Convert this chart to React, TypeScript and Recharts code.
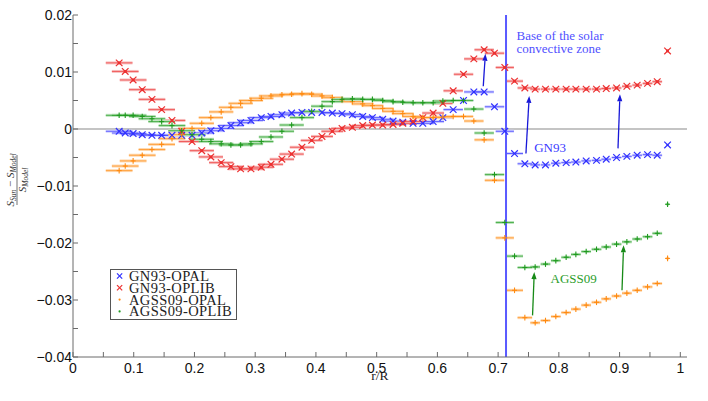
import React from 'react';
import { ScatterChart, Scatter, XAxis, YAxis, ErrorBar, ReferenceLine, ReferenceDot, Legend } from 'recharts';

// fractional radius of each measurement point
const radius = [
  0.076, 0.086, 0.099, 0.114, 0.130, 0.146, 0.163, 0.179, 0.196, 0.212,
  0.227, 0.244, 0.260, 0.276, 0.293, 0.310, 0.326, 0.344, 0.360, 0.377,
  0.393, 0.410, 0.427, 0.443, 0.460, 0.477, 0.493, 0.510, 0.527, 0.543,
  0.560, 0.576, 0.593, 0.609, 0.626, 0.643, 0.660, 0.677, 0.694, 0.711,
  0.727, 0.744, 0.761, 0.778, 0.795, 0.812, 0.828, 0.845, 0.862, 0.878,
  0.895, 0.912, 0.929, 0.946, 0.962, 0.979,
];

// half width of the horizontal error bars (in r/R)
const xErr = [
  0.022, 0.022, 0.022, 0.022, 0.022, 0.022, 0.022, 0.022, 0.022, 0.02,
  0.02, 0.02, 0.02, 0.02, 0.02, 0.02, 0.02, 0.02, 0.02, 0.02,
  0.018, 0.018, 0.018, 0.018, 0.018, 0.018, 0.018, 0.018, 0.018, 0.018,
  0.018, 0.018, 0.018, 0.016, 0.016, 0.016, 0.016, 0.016, 0.016, 0.015,
  0.014, 0.012, 0.008, 0.008, 0.008, 0.008, 0.008, 0.008, 0.008, 0.008,
  0.008, 0.008, 0.008, 0.008, 0.008, 0.002,
];

const gn93Opal = [
  -0.0004, -0.0007, -0.0008, -0.0010, -0.0011, -0.0011, -0.0011, -0.0011, -0.0011, -0.0007,
  -0.0003, 0.0001, 0.0006, 0.0011, 0.0015, 0.0020, 0.0022, 0.0025, 0.0028, 0.0029,
  0.0029, 0.0029, 0.0028, 0.0027, 0.0025, 0.0022, 0.0020, 0.0017, 0.0014, 0.0012,
  0.0010, 0.0010, 0.0013, 0.0020, 0.0034, 0.0050, 0.0065, 0.0065, 0.0039, -0.0004,
  -0.0043, -0.0061, -0.0063, -0.0063, -0.0060, -0.0059, -0.0058, -0.0056, -0.0055, -0.0053,
  -0.0050, -0.0048, -0.0046, -0.0045, -0.0046, -0.0028,
];

const gn93Oplib = [
  0.0116, 0.0101, 0.0086, 0.0069, 0.0052, 0.0034, 0.0015, -0.0004, -0.0022, -0.0038,
  -0.0049, -0.0059, -0.0066, -0.0070, -0.0070, -0.0067, -0.0062, -0.0053, -0.0044, -0.0032,
  -0.0020, -0.0013, -0.0004, 0.0001, 0.0003, 0.0006, 0.0007, 0.0007, 0.0008, 0.0010,
  0.0013, 0.0020, 0.0028, 0.0045, 0.0067, 0.0096, 0.0123, 0.0139, 0.0133, 0.0108,
  0.0084, 0.0072, 0.0070, 0.0070, 0.0070, 0.0070, 0.0070, 0.0070, 0.0070, 0.0071,
  0.0072, 0.0075, 0.0077, 0.0080, 0.0083, 0.0137,
];

const agss09Opal = [
  -0.0073, -0.0065, -0.0056, -0.0046, -0.0036, -0.0027, -0.0017, -0.0010, 0.0001, 0.0010,
  0.0020, 0.0030, 0.0038, 0.0045, 0.0050, 0.0054, 0.0058, 0.0060, 0.0061, 0.0062,
  0.0061, 0.0058, 0.0055, 0.0051, 0.0048, 0.0044, 0.0041, 0.0036, 0.0031, 0.0027,
  0.0022, 0.0020, 0.0020, 0.0021, 0.0022, 0.0022, 0.0014, -0.0019, -0.0090, -0.0191,
  -0.0283, -0.0331, -0.0340, -0.0336, -0.0329, -0.0322, -0.0316, -0.0309, -0.0304, -0.0298,
  -0.0293, -0.0288, -0.0283, -0.0277, -0.0271, -0.0227,
];

const agss09Oplib = [
  0.0024, 0.0024, 0.0024, 0.0022, 0.0018, 0.0013, 0.0006, -0.0003, -0.0010, -0.0018,
  -0.0022, -0.0026, -0.0028, -0.0028, -0.0026, -0.0022, -0.0014, -0.0004, 0.0007, 0.0020,
  0.0031, 0.0040, 0.0048, 0.0052, 0.0053, 0.0052, 0.0052, 0.0050, 0.0048, 0.0047,
  0.0046, 0.0046, 0.0046, 0.0049, 0.0050, 0.0050, 0.0035, -0.0007, -0.0080, -0.0164,
  -0.0223, -0.0243, -0.0242, -0.0237, -0.0231, -0.0225, -0.0220, -0.0215, -0.0211, -0.0207,
  -0.0202, -0.0198, -0.0193, -0.0189, -0.0183, -0.0132,
];

const seriesNames = ['GN93-OPAL', 'GN93-OPLIB', 'AGSS09-OPAL', 'AGSS09-OPLIB'];
const seriesValues = [gn93Opal, gn93Oplib, agss09Opal, agss09Oplib];
const seriesColors = ['#2f2fff', '#ec3030', '#ff8a10', '#1f9a1f'];
const bandColors = ['#d2d2ff', '#f8c0c0', '#ffd9b0', '#bde4bd'];
const markers = ['cross', 'crossBox', 'plus', 'plus'];

const xTicks = [0, 0.05, 0.1, 0.15, 0.2, 0.25, 0.3, 0.35, 0.4, 0.45, 0.5, 0.55, 0.6, 0.65, 0.7, 0.75, 0.8, 0.85, 0.9, 0.95, 1];
const xTickLabels = ['0', '', '0.1', '', '0.2', '', '0.3', '', '0.4', '', '0.5', '', '0.6', '', '0.7', '', '0.8', '', '0.9', '', '1'];
const yTicks = [0.02, 0.015, 0.01, 0.005, 0, -0.005, -0.01, -0.015, -0.02, -0.025, -0.03, -0.035, -0.04];
const yTickLabels = ['0.02', '', '0.01', '', '0', '', '\u22120.01', '', '\u22120.02', '', '\u22120.03', '', '\u22120.04'];

const convectiveBase = 0.713;

const notes = [
  { x: 0.7304, y: 0.0157, text: 'Base of the solar', color: '#5050ff' },
  { x: 0.7304, y: 0.0133, text: 'convective zone', color: '#5050ff' },
  { x: 0.7593, y: -0.0040, text: 'GN93', color: '#3a3aff' },
  { x: 0.7863, y: -0.0271, text: 'AGSS09', color: '#2a9d2a' },
];

const arrows = [
  { x1: 0.6755, y1: 0.0075, x2: 0.679, y2: 0.0132, color: '#1818d8' },
  { x1: 0.7458, y1: -0.0043, x2: 0.7512, y2: 0.0058, color: '#1818d8' },
  { x1: 0.8974, y1: -0.0034, x2: 0.9006, y2: 0.0061, color: '#1818d8' },
  { x1: 0.7567, y1: -0.0327, x2: 0.7595, y2: -0.0251, color: '#178a17' },
  { x1: 0.904, y1: -0.0283, x2: 0.9066, y2: -0.0204, color: '#178a17' },
];

const FRAME = '#6a6a6a';
const TICK_LEN = 5;
const sansFont = '"Liberation Sans", Arial, Helvetica, sans-serif';
const serifFont = '"Liberation Serif", "Times New Roman", serif';

const BottomTick = (props: any) => {
  const { x, y, payload } = props;
  const label = xTickLabels[xTicks.indexOf(payload.value)];
  return (
    <g>
      <line x1={x} x2={x} y1={y} y2={y - TICK_LEN} stroke={FRAME} />
      {label ? (
        <text x={x} y={y + 11} textAnchor="middle" dominantBaseline="central" fontFamily={sansFont} fontSize={14} fill="#111">
          {label}
        </text>
      ) : null}
    </g>
  );
};

const TopTick = (props: any) => {
  const { x, y } = props;
  return <line x1={x} x2={x} y1={y} y2={y + TICK_LEN} stroke={FRAME} />;
};

const LeftTick = (props: any) => {
  const { x, y, payload } = props;
  const label = yTickLabels[yTicks.indexOf(payload.value)];
  return (
    <g>
      <line x1={x} x2={x + TICK_LEN} y1={y} y2={y} stroke={FRAME} />
      {label ? (
        <text x={x - 1} y={y} textAnchor="end" dominantBaseline="central" fontFamily={sansFont} fontSize={14} fill="#111">
          {label}
        </text>
      ) : null}
    </g>
  );
};

const RightTick = (props: any) => {
  const { x, y } = props;
  return <line x1={x} x2={x - TICK_LEN} y1={y} y2={y} stroke={FRAME} />;
};

const drawMarker = (kind: string, cx: number, cy: number, color: string, s = 3.3) => {
  if (kind === 'plus') {
    return (
      <g>
        <line x1={cx} x2={cx} y1={cy - 2.8} y2={cy + 2.8} stroke={color} strokeWidth={1.1} />
        <line x1={cx - 2.5} x2={cx + 2.5} y1={cy} y2={cy} stroke={color} strokeWidth={1.1} />
      </g>
    );
  }
  return (
    <g>
      <line x1={cx - s} x2={cx + s} y1={cy - s} y2={cy + s} stroke={color} strokeWidth={1.2} />
      <line x1={cx - s} x2={cx + s} y1={cy + s} y2={cy - s} stroke={color} strokeWidth={1.2} />
      {kind === 'crossBox' ? <rect x={cx - 1.4} y={cy - 1.4} width={2.8} height={2.8} fill={color} /> : null}
    </g>
  );
};

const Arrow = (color: string) => (props: any) => {
  const { x1, y1, x2, y2 } = props;
  const dx = x2 - x1;
  const dy = y2 - y1;
  const len = Math.sqrt(dx * dx + dy * dy) || 1;
  const ux = dx / len;
  const uy = dy / len;
  const hl = 7;
  const hw = 2.6;
  const bx = x2 - ux * hl;
  const by = y2 - uy * hl;
  return (
    <g>
      <line x1={x1} y1={y1} x2={bx} y2={by} stroke={color} strokeWidth={1.3} />
      <polygon
        points={`${x2},${y2} ${bx - uy * hw},${by + ux * hw} ${bx + uy * hw},${by - ux * hw}`}
        fill={color}
      />
    </g>
  );
};

const YLabel = (props: any) => {
  const vb = props.viewBox || { x: 0, y: 15, width: 73, height: 342 };
  const cx = vb.x + 17;
  const cy = vb.y + vb.height / 2 - 6;
  return (
    <g transform={`translate(${cx}, ${cy}) rotate(-90)`} fill="#333" fontFamily={serifFont} fontStyle="italic">
      <text x={0} y={-3} textAnchor="middle" fontSize={11}>
        S<tspan fontSize={7.5} dy={2}>Sun</tspan>
        <tspan dy={-2} fontStyle="normal"> {'\u2212'} </tspan>S<tspan fontSize={7.5} dy={2}>Model</tspan>
      </text>
      <line x1={-25} x2={25} y1={0} y2={0} stroke="#333" strokeWidth={0.7} />
      <text x={0} y={8.5} textAnchor="middle" fontSize={11}>
        S<tspan fontSize={7.5} dy={2}>Model</tspan>
      </text>
    </g>
  );
};

const XLabel = (props: any) => {
  const vb = props.viewBox || { x: 73, y: 357, width: 614, height: 44 };
  return (
    <text x={vb.x + vb.width / 2} y={vb.y + 23} textAnchor="middle" fontFamily={serifFont} fontSize={13.5} fill="#222">
      r/R
    </text>
  );
};

const LegendBox = (props: any) => {
  const payload = [...(props.payload || [])].sort(
    (a: any, b: any) => seriesNames.indexOf(a.value) - seriesNames.indexOf(b.value),
  );
  return (
    <svg width={127} height={51} style={{ display: 'block' }}>
      <rect x={0.5} y={0.5} width={126} height={50} fill="#fff" stroke="#555" />
      {payload.map((p: any, i: number) => {
        const k = seriesNames.indexOf(p.value);
        const cy = 7 + i * 11.8;
        return (
          <g key={p.value}>
            {markers[k] === 'plus' ? (
              <circle cx={9.6} cy={cy} r={1.1} fill={seriesColors[k]} />
            ) : (
              drawMarker('cross', 9.6, cy, seriesColors[k], 2.6)
            )}
            <text
              x={19}
              y={cy}
              dominantBaseline="central"
              fontFamily={serifFont}
              fontSize={14.5}
              letterSpacing={0.4}
              fill="#222"
            >
              {p.value}
            </text>
          </g>
        );
      })}
    </svg>
  );
};

export default function App() {
  const series = seriesNames.map((name, k) => ({
    name,
    data: radius.map((r, i) => ({ r, v: seriesValues[k][i], e: xErr[i] })),
  }));

  return (
    <div style={{ position: 'absolute', left: 0, top: 0, width: 708, height: 401, background: '#fff' }}>
      <ScatterChart width={708} height={401} margin={{ top: 15, right: 21, bottom: 0, left: 0 }}>
        <XAxis
          dataKey="r"
          type="number"
          domain={[0, 1.011]}
          ticks={xTicks}
          interval={0}
          height={44}
          tickSize={0}
          tickMargin={0}
          tickLine={false}
          tick={<BottomTick />}
          axisLine={{ stroke: FRAME }}
          label={{ content: <XLabel /> }}
        />
        <XAxis
          xAxisId="top"
          orientation="top"
          type="number"
          domain={[0, 1.011]}
          ticks={xTicks}
          interval={0}
          height={0}
          tickSize={0}
          tickMargin={0}
          tickLine={false}
          tick={<TopTick />}
          axisLine={{ stroke: FRAME }}
        />
        <YAxis
          dataKey="v"
          type="number"
          domain={[-0.04, 0.02]}
          ticks={yTicks}
          interval={0}
          width={73}
          tickSize={0}
          tickMargin={0}
          tickLine={false}
          tick={<LeftTick />}
          axisLine={{ stroke: FRAME }}
          label={{ content: <YLabel /> }}
        />
        <YAxis
          yAxisId="right"
          orientation="right"
          type="number"
          domain={[-0.04, 0.02]}
          ticks={yTicks}
          interval={0}
          width={0}
          tickSize={0}
          tickMargin={0}
          tickLine={false}
          tick={<RightTick />}
          axisLine={{ stroke: FRAME }}
        />
        <ReferenceLine y={0} stroke="#8a8a8a" strokeWidth={1.2} />
        {series.map((s, k) => (
          <Scatter
            key={s.name}
            name={s.name}
            data={s.data}
            fill={seriesColors[k]}
            isAnimationActive={false}
            shape={(p: any) => drawMarker(markers[k], p.cx, p.cy, seriesColors[k])}
          >
            <ErrorBar dataKey="e" direction="x" width={0} stroke={bandColors[k]} strokeWidth={3} isAnimationActive={false} />
            <ErrorBar dataKey="e" direction="x" width={0} stroke={seriesColors[k]} strokeWidth={1} strokeOpacity={0.7} isAnimationActive={false} />
          </Scatter>
        ))}
        <ReferenceLine x={convectiveBase} stroke="#5a5aff" strokeWidth={2} />
        {arrows.map((a, i) => (
          <ReferenceLine
            key={`arrow-${i}`}
            segment={[{ x: a.x1, y: a.y1 }, { x: a.x2, y: a.y2 }]}
            stroke={a.color}
            shape={Arrow(a.color)}
          />
        ))}
        {notes.map((n, i) => (
          <ReferenceDot
            key={`note-${i}`}
            x={n.x}
            y={n.y}
            r={0}
            shape={(p: any) => (
              <text x={p.cx} y={p.cy} fontFamily={serifFont} fontSize={13} fill={n.color}>
                {n.text}
              </text>
            )}
          />
        ))}
        <Legend
          layout="vertical"
          align="center"
          verticalAlign="middle"
          content={<LegendBox />}
          wrapperStyle={{ left: 110, top: 269, width: 127, height: 51 }}
        />
      </ScatterChart>
    </div>
  );
}
